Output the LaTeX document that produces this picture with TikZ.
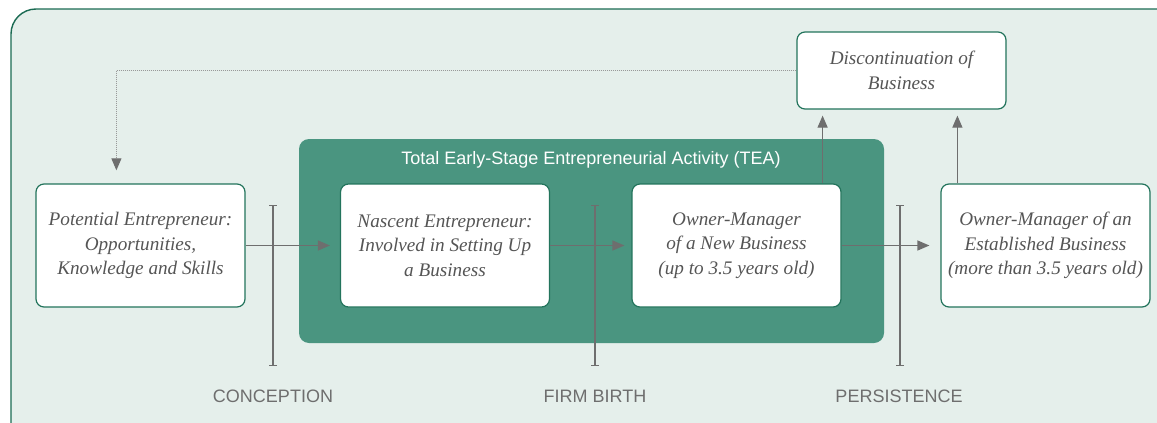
\documentclass[tikz,border=0pt]{standalone}
\usepackage{fontspec}
\setmainfont{Liberation Serif}
\setsansfont{Liberation Sans}
\usetikzlibrary{arrows.meta}

\definecolor{panelbg}{HTML}{E5EFEB}
\definecolor{paneledge}{HTML}{1B6B53}
\definecolor{teafill}{HTML}{4A9580}
\definecolor{boxedge}{HTML}{23745C}
\definecolor{linegray}{HTML}{6E6E6E}
\definecolor{textgray}{HTML}{555555}

\tikzset{
  stagebox/.style={draw=boxedge, line width=0.6pt, fill=white, rounded corners=4pt,
    minimum width=104.5pt, minimum height=61.5pt, inner sep=0pt, align=center,
    text=textgray, font=\fontsize{9.6}{12.3}\selectfont\itshape},
  flow/.style={draw=linegray, line width=0.6pt, -{Triangle[length=6pt,width=5pt]}},
  gatebar/.style={draw=linegray, line width=0.6pt, {Bar[width=4pt]}-{Bar[width=4pt]}},
  gatelabel/.style={text=linegray, font=\sffamily\fontsize{9}{11}\selectfont}
}

\begin{document}
\begin{tikzpicture}[x=0.5pt,y=-0.5pt]

      \useasboundingbox (0,0) rectangle (1157,423);
      \clip (0,0) rectangle (1157,423);

      % background panel, runs off the right and bottom edges
      \draw[fill=panelbg, draw=paneledge, line width=0.7pt, rounded corners=12.5pt]
        (11,9) rectangle (1185,460);

      % TEA block
      \fill[teafill, rounded corners=5pt] (299,139) rectangle (884,343);
      \node[text=white, font=\sffamily\fontsize{9}{11}\selectfont] (tea) at (591,160)
        {Total Early-Stage Entrepreneurial Activity (TEA)};

      \begin{scope}[every node/.style={stagebox}]
        \node (pot)  at (140.5,245.5) {Potential Entrepreneur:\\Opportunities,\\Knowledge and Skills};
        \node (nasc) at (445,245.5)   {Nascent Entrepreneur:\\Involved in Setting Up\\a Business};
        \node (new)  at (736.5,245.5) {Owner-Manager\\of a New Business\\(up to 3.5 years old)};
        \node (est)  at (1045.5,245.5) {Owner-Manager of an\\Established Business\\(more than 3.5 years old)};
        \node[minimum height=38.5pt] (disc) at (901.5,70.5) {Discontinuation of\\Business};
      \end{scope}

      \coordinate (up1) at ([xshift=-9.5pt]new.north east);
      \coordinate (up2) at ([xshift=8.5pt]est.north west);
      \coordinate (back) at ([xshift=40.5pt]pot.north west);

      \draw[flow, shorten >=5pt] (pot) -- (nasc);
      \draw[flow, shorten >=3.5pt] (nasc) -- (new);
      \draw[flow, shorten >=5.5pt] (new) -- (est);
      \draw[flow, shorten >=3pt] (up1) -- (up1 |- disc.south);
      \draw[flow, shorten >=3pt] (up2) -- (up2 |- disc.south);

      % way back after discontinuation
      \draw[draw=linegray!70, line width=0.5pt, dash pattern=on 0.5pt off 0.5pt,
            shorten >=5.5pt, -{Triangle[length=6pt,width=5pt,fill=linegray,color=linegray,sep]}]
        (disc.west) -| (back);

      % stage gates
      \node[gatelabel] (conc)  at (273,396) {CONCEPTION};
      \node[gatelabel] (birth) at (595,396) {FIRM BIRTH};
      \node[gatelabel] (pers)  at (899,396) {PERSISTENCE};

      \coordinate (g1) at (273,205);
      \coordinate (g2) at (595,205);
      \coordinate (g3) at (900,205);
      \draw[gatebar] (g1) -- (273,366);
      \draw[gatebar] (g2) -- (595,366);
      \draw[gatebar] (g3) -- (900,366);

    \end{tikzpicture}
\end{document}
